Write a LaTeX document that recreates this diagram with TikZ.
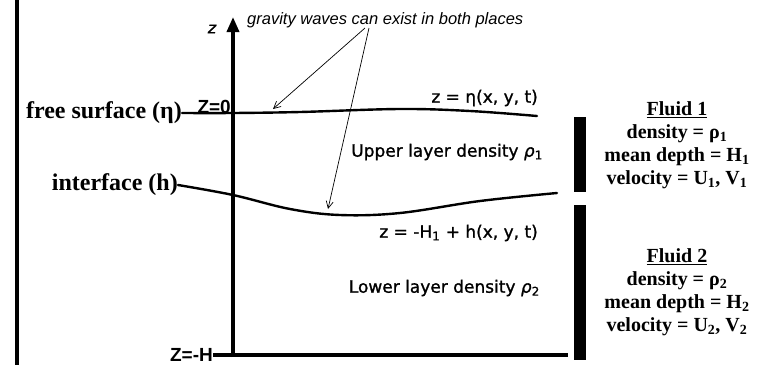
\documentclass[tikz,border=0pt]{standalone}
\usepackage{fontspec}
\setmainfont{Liberation Serif}
\setsansfont{Liberation Sans}
\newfontfamily\scanfont[FakeBold=1.2]{DejaVu Sans}
\usetikzlibrary{arrows.meta, positioning}

\begin{document}
\begin{tikzpicture}[
    x=1pt, y=-1pt,
    sidelbl/.style={inner sep=0pt, font=\fontsize{24}{26}\selectfont\bfseries},
    fluid/.style={align=center, inner sep=0pt,
                  font=\fontsize{20}{23}\selectfont\bfseries},
    scan/.style={inner sep=0pt, font=\scanfont\fontsize{17}{19}\selectfont},
    zlbl/.style={inner sep=0pt, font=\sffamily\bfseries\fontsize{19}{21}\selectfont},
    surface/.style={line width=2.4pt, line cap=round},
    pointer/.style={-{Straight Barb[length=7pt,width=7pt]}, line width=0.7pt},
]

\useasboundingbox (0,0) rectangle (761,365);

% Left frame line
\draw[line width=3.5pt] (17,0) -- (17,365);

% Vertical axis
\coordinate (axisBot) at (233,357);
\coordinate (axisTop) at (233,17);
\draw[line width=3.5pt, -{Triangle[length=15pt,width=12pt]}] (axisBot) -- (axisTop);
\node[scan, font=\scanfont\itshape\fontsize{16}{18}\selectfont] (zax) at (212,29) {z};

% Annotation
\node[inner sep=0pt, anchor=west, font=\sffamily\itshape\fontsize{16.5}{18}\selectfont]
     (note) at (247,20) {gravity waves can exist in both places};

% Free surface
\node[zlbl, anchor=base east] (zzero) at (231,113) {Z=0};
\node[sidelbl, anchor=east] (fsLabel) at (182,113) {free surface (η)};
\draw[surface] plot[smooth, tension=0.6] coordinates
     {(fsLabel.east) (233,113) (300,112) (400,109) (470,111) (537,116)};
\node[scan, anchor=east] (etaDef) at (538,98) {z = η(x, y, t)};
\node[scan, anchor=east] (upper) at (543,152) {Upper layer density {\itshape ρ}\textsubscript{1}};

% Interface
\node[sidelbl, anchor=east] (ifLabel) at (178,185) {interface (h)};
\draw[surface] plot[smooth, tension=0.6] coordinates
     {(ifLabel.east) (233,195) (290,209) (340,215) (400,213) (480,201) (557,193)};
\node[scan, anchor=east] (hDef) at (538,233) {z = -H\textsubscript{1} + h(x, y, t)};
\node[scan, anchor=east] (lower) at (540,288) {Lower layer density {\itshape ρ}\textsubscript{2}};

% Bottom
\node[zlbl, anchor=east] (zbot) at (213,355) {Z=-H};
\draw[line width=3.5pt] (zbot.east) -- (568,355);

% Pointers to both surfaces
\coordinate (canA) at (365,28);
\coordinate (canB) at (369,28);
\coordinate (waveFs) at (273,109);
\coordinate (waveIf) at (328,209);
\draw[pointer] (canA) -- (waveFs);
\draw[pointer] (canB) -- (waveIf);

% Fluid properties
\fill (574,117) rectangle (586,192);
\fill (574,205) rectangle (586,360);
\node[fluid] (fluidA) at (677,145) {\underline{Fluid 1}\\density = ρ\textsubscript{1}\\
      mean depth = H\textsubscript{1}\\velocity = U\textsubscript{1}, V\textsubscript{1}};
\node[fluid] (fluidB) at (677,292) {\underline{Fluid 2}\\density = ρ\textsubscript{2}\\
      mean depth = H\textsubscript{2}\\velocity = U\textsubscript{2}, V\textsubscript{2}};

\end{tikzpicture}
\end{document}
